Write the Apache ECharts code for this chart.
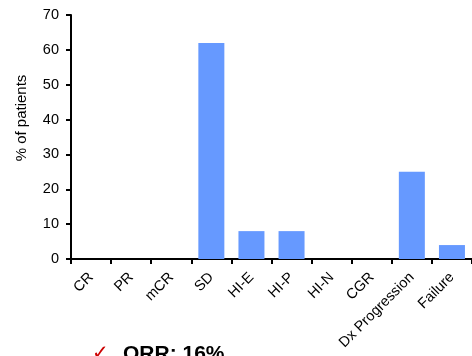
<!DOCTYPE html>
<html>
<head>
<meta charset="utf-8">
<script src="https://cdn.jsdelivr.net/npm/echarts@6/dist/echarts.min.js"></script>
<style>
  html, body { margin: 0; padding: 0; background: #fff; }
  #chart { width: 472px; height: 356px; }
</style>
</head>
<body>
<div id="chart"></div>
<script>
// Response categories and share of patients in each (%)
var categories = ['CR', 'PR', 'mCR', 'SD', 'HI-E', 'HI-P', 'HI-N', 'CGR', 'Dx Progression', 'Failure'];
var percentPatients = [0, 0, 0, 62, 8, 8, 0, 0, 25, 4];
var yTicks = [0, 10, 20, 30, 40, 50, 60, 70];

var font = '"Liberation Sans", Arial, sans-serif';

var chart = echarts.init(document.getElementById('chart'), null, { renderer: 'canvas' });
chart.setOption({
  animation: false,
  backgroundColor: '#ffffff',
  grid: { left: 71, right: -4, top: 15, bottom: 97 },
  xAxis: {
    type: 'category',
    data: categories,
    axisLine: { lineStyle: { color: '#000', width: 2 } },
    axisTick: { show: true, length: 5, lineStyle: { color: '#000', width: 2 }, alignWithLabel: false },
    axisLabel: { rotate: 45, margin: 16, color: '#000', fontSize: 14.5, fontFamily: font, interval: 0 }
  },
  yAxis: {
    type: 'value',
    min: yTicks[0],
    max: yTicks[yTicks.length - 1],
    interval: 10,
    splitLine: { show: false },
    axisLine: { show: true, lineStyle: { color: '#000', width: 2 } },
    axisTick: { show: true, length: 5, lineStyle: { color: '#000', width: 2 } },
    axisLabel: { margin: 12, color: '#000', fontSize: 14.5, fontFamily: font }
  },
  series: [{
    type: 'bar',
    data: percentPatients,
    barWidth: 26,
    itemStyle: { color: '#6699ff' }
  }],
  graphic: [
    {
      type: 'text',
      x: 22, y: 118,
      rotation: Math.PI / 2,
      style: {
        text: '% of patients',
        fill: '#000',
        font: '15px ' + font,
        textAlign: 'center',
        textVerticalAlign: 'middle'
      }
    },
    {
      type: 'text',
      x: 92, y: 344,
      style: {
        text: '\u2713',
        fill: '#cc0000',
        font: '20px "DejaVu Sans", sans-serif',
        textAlign: 'left',
        textVerticalAlign: 'top'
      }
    },
    {
      type: 'text',
      x: 123, y: 344,
      style: {
        text: 'ORR: 16%',
        fill: '#000',
        font: 'bold 21px ' + font,
        textAlign: 'left',
        textVerticalAlign: 'top'
      }
    }
  ]
});
</script>
</body>
</html>
